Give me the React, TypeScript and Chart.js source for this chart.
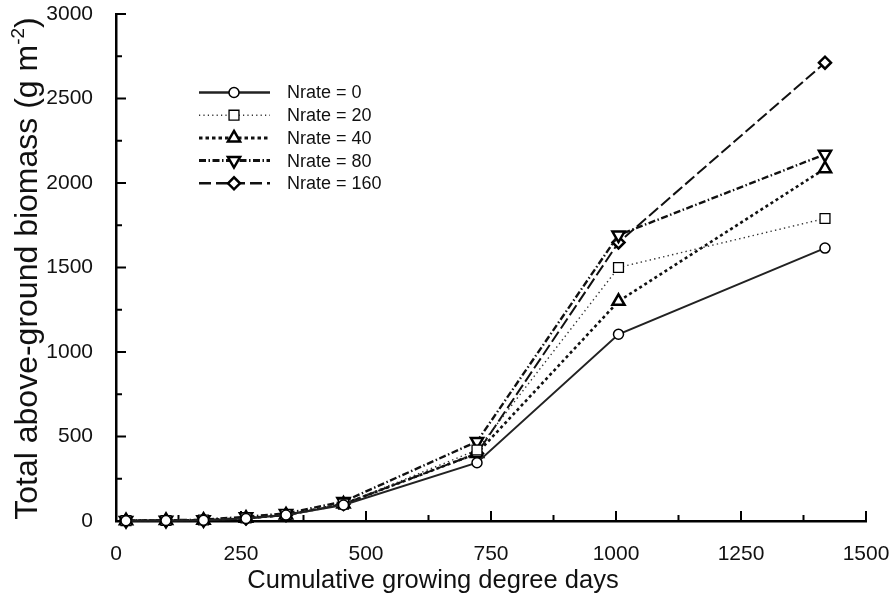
import React, { useEffect, useRef } from "react";
import { Chart, registerables } from "chart.js";

Chart.register(...registerables);

// ---- data ----
const gdd = [20, 100, 175, 260, 340, 455, 722, 1005, 1418];
const nrate0 = [2, 3, 5, 15, 35, 95, 345, 1105, 1615];
const nrate20 = [2, 3, 6, 18, 38, 100, 420, 1500, 1790];
const nrate40 = [2, 3, 5, 17, 36, 100, 400, 1300, 2085];
const nrate80 = [3, 4, 8, 25, 45, 115, 470, 1692, 2170];
const nrate160 = [2, 3, 5, 15, 35, 100, 400, 1648, 2712];
const seriesLabels = ["Nrate = 0", "Nrate = 20", "Nrate = 40", "Nrate = 80", "Nrate = 160"];
const xTickValues = [0, 250, 500, 750, 1000, 1250, 1500];
const yTickValues = [0, 500, 1000, 1500, 2000, 2500, 3000];
const xTitle = "Cumulative growing degree days";
const yTitleMain = "Total above-ground biomass (g m";
const yTitleSup = "-2";
const yTitleEnd = ")";

const FONT = "'Liberation Sans', Arial, Helvetica, sans-serif";
const INK = "#111111";

type Style = {
  color: string;
  width: number;
  dash: number[];
  legendWidth: number;
  legendDash: number[];
  point: string;
  radius: number;
  rotation: number;
  pointBorder: number;
};

const styles: Style[] = [
  { color: "#222222", width: 2, dash: [], legendWidth: 2.6, legendDash: [], point: "circle", radius: 5, rotation: 0, pointBorder: 1.5 },
  { color: "#333333", width: 1.4, dash: [1.4, 3.2], legendWidth: 1.4, legendDash: [1.2, 3.2], point: "rect", radius: 7, rotation: 0, pointBorder: 1.3 },
  { color: "#111111", width: 2.6, dash: [3, 3], legendWidth: 3, legendDash: [3.5, 3], point: "triangle", radius: 7, rotation: 0, pointBorder: 2.5 },
  { color: "#111111", width: 2.4, dash: [7, 2.5, 1.5, 2.5], legendWidth: 3, legendDash: [7, 2.5, 1.5, 2.5], point: "triangle", radius: 7, rotation: 180, pointBorder: 2.5 },
  { color: "#111111", width: 2, dash: [12, 4], legendWidth: 2.4, legendDash: [12, 5], point: "rectRot", radius: 6, rotation: 0, pointBorder: 2.5 },
];

const seriesValues = [nrate0, nrate20, nrate40, nrate80, nrate160];

function drawMarker(ctx: CanvasRenderingContext2D, s: Style, x: number, y: number) {
  ctx.save();
  ctx.setLineDash([]);
  ctx.lineWidth = s.pointBorder;
  ctx.strokeStyle = "#000";
  ctx.fillStyle = "#fff";
  ctx.beginPath();
  const r = s.radius;
  if (s.point === "circle") {
    ctx.arc(x, y, r, 0, Math.PI * 2);
  } else if (s.point === "rect") {
    const h = Math.SQRT1_2 * r;
    ctx.rect(x - h, y - h, 2 * h, 2 * h);
  } else if (s.point === "triangle") {
    let rad = (s.rotation * Math.PI) / 180;
    for (let k = 0; k < 3; k++) {
      const px = x + Math.sin(rad) * r;
      const py = y - Math.cos(rad) * r;
      if (k === 0) ctx.moveTo(px, py);
      else ctx.lineTo(px, py);
      rad += (2 * Math.PI) / 3;
    }
    ctx.closePath();
  } else {
    ctx.moveTo(x - r, y);
    ctx.lineTo(x, y - r);
    ctx.lineTo(x + r, y);
    ctx.lineTo(x, y + r);
    ctx.closePath();
  }
  ctx.fill();
  ctx.stroke();
  ctx.restore();
}

const decor = {
  id: "decor",
  beforeDatasetsDraw(chart: any) {
    const ctx: CanvasRenderingContext2D = chart.ctx;
    const xs = chart.scales.x;
    const ys = chart.scales.y;
    const area = chart.chartArea;
    ctx.save();
    ctx.strokeStyle = "#000";
    ctx.lineWidth = 2;
    ctx.beginPath();
    for (let i = 0; i < xTickValues.length; i++) {
      const px = xs.getPixelForValue(xTickValues[i]);
      ctx.moveTo(px, area.bottom);
      ctx.lineTo(px, area.bottom - 10);
      if (i < xTickValues.length - 1) {
        const mx = xs.getPixelForValue((xTickValues[i] + xTickValues[i + 1]) / 2);
        ctx.moveTo(mx, area.bottom);
        ctx.lineTo(mx, area.bottom - 6);
      }
    }
    for (let i = 0; i < yTickValues.length; i++) {
      const py = ys.getPixelForValue(yTickValues[i]);
      ctx.moveTo(area.left, py);
      ctx.lineTo(area.left + 10, py);
      if (i < yTickValues.length - 1) {
        const my = ys.getPixelForValue((yTickValues[i] + yTickValues[i + 1]) / 2);
        ctx.moveTo(area.left, my);
        ctx.lineTo(area.left + 6, my);
      }
    }
    ctx.stroke();
    ctx.restore();
  },
  afterDraw(chart: any) {
    const ctx: CanvasRenderingContext2D = chart.ctx;
    const area = chart.chartArea;
    ctx.save();
    // legend
    const lx0 = 199;
    const lx1 = 270;
    const mx = 234;
    const tx = 287;
    for (let i = 0; i < seriesLabels.length; i++) {
      const s = styles[i];
      const y = 92.5 + i * 22.7;
      ctx.save();
      ctx.strokeStyle = s.color;
      ctx.lineWidth = s.legendWidth;
      ctx.setLineDash(s.legendDash);
      ctx.beginPath();
      ctx.moveTo(lx0, y);
      ctx.lineTo(lx1, y);
      ctx.stroke();
      ctx.restore();
      drawMarker(ctx, s, mx, y);
      ctx.fillStyle = INK;
      ctx.font = `18px ${FONT}`;
      ctx.textAlign = "left";
      ctx.textBaseline = "middle";
      ctx.fillText(seriesLabels[i], tx, y + 1);
    }
    // x title
    ctx.fillStyle = INK;
    ctx.font = `25.5px ${FONT}`;
    ctx.textAlign = "center";
    ctx.textBaseline = "alphabetic";
    ctx.fillText(xTitle, 433, 588);
    // y title (rotated, with superscript)
    const big = `32px ${FONT}`;
    const small = `19px ${FONT}`;
    ctx.font = big;
    const w1 = ctx.measureText(yTitleMain).width;
    const w3 = ctx.measureText(yTitleEnd).width;
    ctx.font = small;
    const w2 = ctx.measureText(yTitleSup).width;
    const total = w1 + w2 + w3;
    const cy = (area.top + area.bottom) / 2 + 1;
    ctx.translate(37, cy);
    ctx.rotate(-Math.PI / 2);
    ctx.textAlign = "left";
    let x = -total / 2;
    ctx.font = big;
    ctx.fillText(yTitleMain, x, 0);
    x += w1;
    ctx.font = small;
    ctx.fillText(yTitleSup, x, -13);
    x += w2;
    ctx.font = big;
    ctx.fillText(yTitleEnd, x, 0);
    ctx.restore();
  },
};

function zeroPadding(scale: any) {
  scale.paddingLeft = 0;
  scale.paddingRight = 0;
  scale.paddingTop = 0;
  scale.paddingBottom = 0;
}

export default function App() {
  const ref = useRef<HTMLCanvasElement | null>(null);
  useEffect(() => {
    if (!ref.current) return;
    const datasets = seriesValues.map((vals, i) => {
      const s = styles[i];
      return {
        label: seriesLabels[i],
        data: vals.map((v, j) => ({ x: gdd[j], y: v })),
        borderColor: s.color,
        borderWidth: s.width,
        borderDash: s.dash,
        pointStyle: s.point,
        pointRadius: s.radius,
        pointRotation: s.rotation,
        pointBorderWidth: s.pointBorder,
        pointBorderColor: "#000",
        pointBackgroundColor: "#fff",
        backgroundColor: "#fff",
        tension: 0,
        fill: false,
        clip: false as any,
      };
    });
    const chart = new Chart(ref.current, {
      type: "line",
      data: { datasets: datasets as any },
      plugins: [decor],
      options: {
        animation: false,
        responsive: true,
        maintainAspectRatio: false,
        layout: { padding: { left: 0, right: 30, top: 14, bottom: 0 } },
        plugins: { legend: { display: false }, tooltip: { enabled: false }, title: { display: false } },
        scales: {
          x: {
            type: "linear",
            min: 0,
            max: 1500,
            afterBuildTicks: (scale: any) => {
              scale.ticks = xTickValues.map((v) => ({ value: v }));
            },
            afterFit: (scale: any) => {
              scale.height = 82;
              zeroPadding(scale);
            },
            grid: { display: false },
            border: { display: true, color: "#000", width: 2.5 },
            ticks: {
              color: INK,
              font: { family: FONT, size: 21 },
              padding: 13,
              maxRotation: 0,
              callback: (v: any) => String(v),
            },
          },
          y: {
            type: "linear",
            min: 0,
            max: 3000,
            afterBuildTicks: (scale: any) => {
              scale.ticks = yTickValues.map((v) => ({ value: v }));
            },
            afterFit: (scale: any) => {
              scale.width = 116;
              zeroPadding(scale);
            },
            grid: { display: false },
            border: { display: true, color: "#000", width: 2.5 },
            ticks: {
              color: INK,
              font: { family: FONT, size: 21 },
              padding: 15,
              callback: (v: any) => String(v),
            },
          },
        },
      },
    });
    return () => chart.destroy();
  }, []);
  return (
    <div style={{ position: "fixed", left: 0, top: 0, width: 896, height: 603, background: "#fff" }}>
      <canvas ref={ref} />
    </div>
  );
}
